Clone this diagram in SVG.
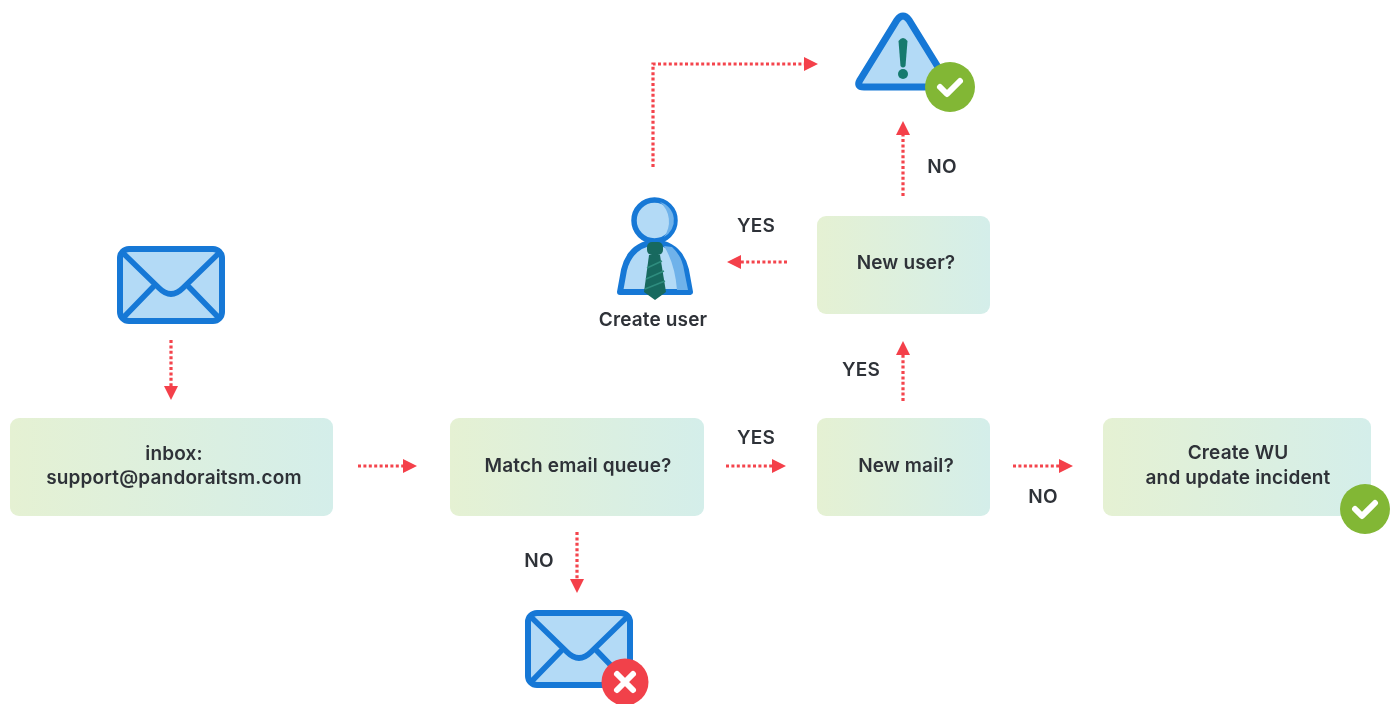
<svg xmlns="http://www.w3.org/2000/svg" xmlns:xlink="http://www.w3.org/1999/xlink" width="1395" height="704" viewBox="0 0 1395 704">
<style>
text{font-family:"Inter","Noto Sans",sans-serif;font-weight:600;font-size:19px;letter-spacing:.15px;fill:#2f3238;text-anchor:middle;filter:url(#soft)}
.box{fill:url(#g)}
.c{fill:none;stroke:#f4444c;stroke-width:3.200;stroke-dasharray:3 2.400}
.ah{fill:#f4404a}
.ico{fill:#b3daf6;stroke:#1678d6;stroke-width:6;stroke-linejoin:round}
.ln{fill:none;stroke:#1678d6;stroke-width:5.500;stroke-linecap:round;stroke-linejoin:round}
.mark{fill:none;stroke:#fff;stroke-width:6;stroke-linecap:round;stroke-linejoin:round}
.sh{fill:#6fb2ea}
.tie{fill:#17695f}
.st{fill:none;stroke:#2f8d7f;stroke-width:1.500}
</style>
<defs>
<linearGradient id="g" x1="0" y1="0" x2="1" y2="0"><stop offset="0" stop-color="#e5f1d3"/><stop offset="1" stop-color="#d4eeea"/></linearGradient>
<filter id="soft" x="-5%" y="-20%" width="110%" height="140%"><feGaussianBlur stdDeviation="0.35"/></filter>
<marker id="arrow" markerUnits="userSpaceOnUse" markerWidth="15" markerHeight="15" refX="1" refY="7.500" orient="auto"><path class="ah" d="M0 0.500L14 7.500L0 14.500Z"/></marker>
<symbol id="env" overflow="visible"><rect class="ico" x="3" y="3" width="102" height="72" rx="9"/><path class="ln" d="M7 8L42 42Q54 54 66 42L101 8M36 41L6 72M72 41L102 72"/></symbol>
</defs>
<rect width="1395" height="704" fill="#fff"/>
<g id="connectors">
<path class="c" d="M171 340V387" marker-end="url(#arrow)"/>
<path class="c" d="M358 466H404" marker-end="url(#arrow)"/>
<path class="c" d="M726 466H773" marker-end="url(#arrow)"/>
<path class="c" d="M1013 466H1060" marker-end="url(#arrow)"/>
<path class="c" d="M577 532V580" marker-end="url(#arrow)"/>
<path class="c" d="M903 401V354" marker-end="url(#arrow)"/>
<path class="c" d="M787 262H740" marker-end="url(#arrow)"/>
<path class="c" d="M903 196V134" marker-end="url(#arrow)"/>
<path class="c" d="M653 167V64H805" marker-end="url(#arrow)"/>
</g>
<g id="mail-in"><use xlink:href="#env" href="#env" x="117" y="246"/></g>
<g id="inbox"><rect class="box" x="10" y="418" width="323" height="98" rx="9"/><text x="174" y="460">inbox:</text><text x="174" y="484">support@pandoraitsm.com</text></g>
<g id="match"><rect class="box" x="450" y="418" width="254" height="98" rx="9"/><text x="578" y="472">Match email queue?</text></g>
<g id="newmail"><rect class="box" x="817" y="418" width="173" height="98" rx="9"/><text x="906" y="472">New mail?</text></g>
<g id="newuser"><rect class="box" x="817" y="216" width="173" height="98" rx="9"/><text x="906" y="269">New user?</text></g>
<g id="wu"><rect class="box" x="1103" y="418" width="268" height="98" rx="9"/><text x="1238" y="459">Create WU</text><text x="1238" y="484">and update incident</text>
<circle cx="1365" cy="509" r="25" fill="#82b735"/><path class="mark" d="M1355 509L1362 516L1375 503"/></g>
<g id="mail-reject"><use xlink:href="#env" href="#env" x="525" y="610"/><circle cx="625" cy="682" r="23.500" fill="#f1414a"/><path class="mark" d="M617 674L633 690M633 674L617 690"/></g>
<g id="alert"><path class="ico" d="M897 20Q903 12 909 20L946 80Q950 87 942 87H864Q856 87 860 80Z" style="stroke-width:7"/><path d="M898.500 41Q903 35 907.500 41L905.500 66Q903 69 900.500 66Z" fill="#167a6e"/><circle cx="903" cy="74" r="5" fill="#167a6e"/>
<circle cx="950" cy="87" r="25" fill="#82b735"/><path class="mark" d="M940 87L947 94L960 81"/></g>
<g id="user"><path class="ico" d="M620 292L624 270Q630 245 655 242Q680 245 686 270L690 292Z"/><path class="sh" d="M672 247Q682 256 684 270L688 290H677Q675 264 664 246Z"/><circle class="ico" cx="654.500" cy="220.500" r="20.500" style="stroke-width:5.500"/><path class="sh" d="M660 202A19 19 0 0 1 664 237A26 26 0 0 0 660 202Z"/>
<path class="tie" d="M649 255L644 292L655 300L666 292L660 255Z"/><rect class="tie" x="647" y="242" width="16" height="13" rx="5"/><path class="st" d="M647 268L662 261M646 279L664 271M645 289L665 281"/>
<text x="653" y="326">Create user</text></g>
<g id="labels"><text x="756" y="232">YES</text><text x="942" y="173">NO</text><text x="861" y="376">YES</text><text x="756" y="444">YES</text><text x="1043" y="503">NO</text><text x="539" y="567">NO</text></g>
</svg>
